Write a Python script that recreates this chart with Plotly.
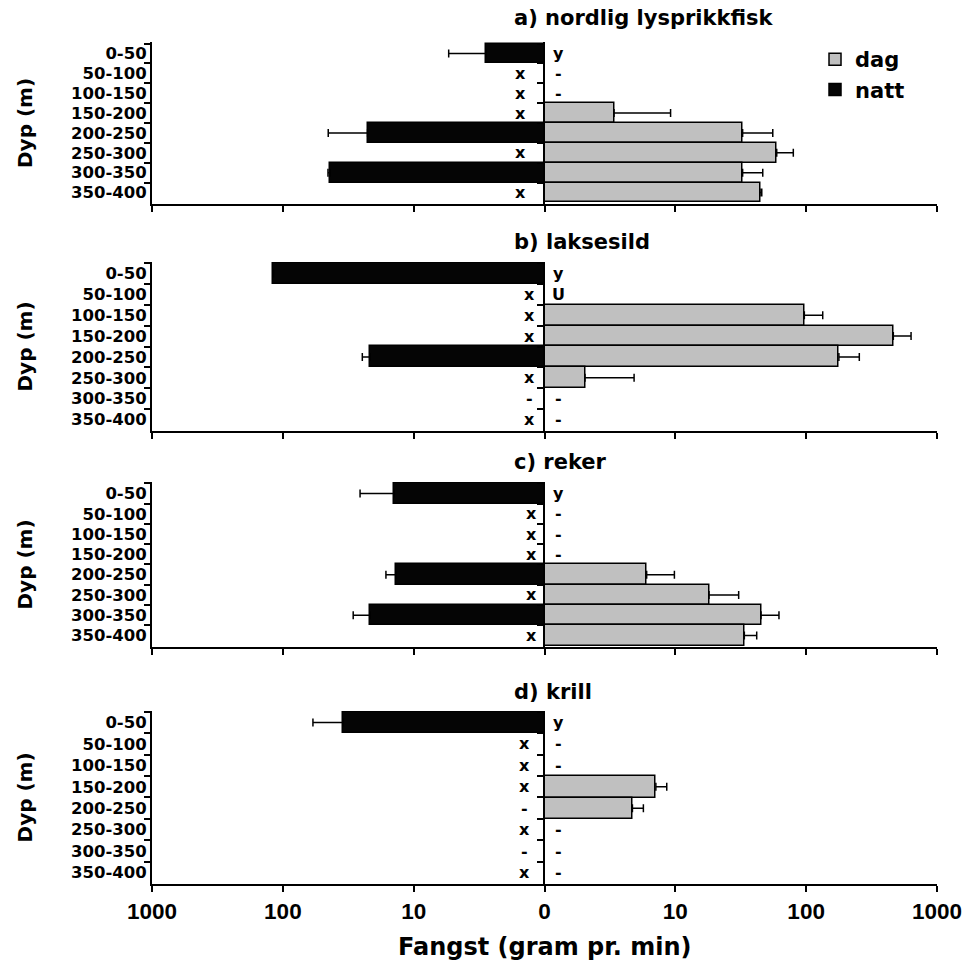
import plotly.graph_objects as go
from plotly.subplots import make_subplots

depths = ["0-50", "50-100", "100-150", "150-200", "200-250", "250-300", "300-350", "350-400"]
titles = ["a) nordlig lysprikkfisk", "b) laksesild", "c) reker", "d) krill"]

# a) nordlig lysprikkfisk
a_dag = [None, None, None, 3.4, 32.7, 59.6, 32.7, 44.4]
a_dag_err = [0, 0, 0, 5.8, 22.9, 20.2, 13.9, 1.4]
a_natt = [2.8, None, None, None, 22.5, None, 43.7, None]
a_natt_err = [2.6, 0, 0, 0, 22.5, 0, 1.5, 0]
a_left = ["", "x", "x", "x", "", "x", "", "x"]
a_right = ["y", "-", "-", "", "", "", "", ""]

# b) laksesild
b_dag = [None, None, 96.9, 464, 178, 2.04, None, None]
b_dag_err = [0, 0, 37, 170, 77, 2.8, 0, 0]
b_natt = [118, None, None, None, 21.6, None, None, None]
b_natt_err = [0, 0, 0, 0, 3.1, 0, 0, 0]
b_left = ["", "x", "x", "x", "", "x", "-", "x"]
b_right = ["y", "U", "", "", "", "", "-", "-"]

# c) reker
c_dag = [None, None, None, None, 6.04, 18.1, 45.2, 33.7]
c_dag_err = [0, 0, 0, 0, 3.8, 12.4, 16.8, 8.2]
c_natt = [14.1, None, None, None, 13.7, None, 21.6, None]
c_natt_err = [11.6, 0, 0, 0, 2.6, 0, 7.4, 0]
c_left = ["", "x", "x", "x", "", "x", "", "x"]
c_right = ["y", "-", "-", "-", "", "", "", ""]

# d) krill
d_dag = [None, None, None, 7.1, 4.7, None, None, None]
d_dag_err = [0, 0, 0, 1.5, 1.0, 0, 0, 0]
d_natt = [34.5, None, None, None, None, None, None, None]
d_natt_err = [24.4, 0, 0, 0, 0, 0, 0, 0]
d_left = ["", "x", "x", "x", "-", "x", "-", "x"]
d_right = ["y", "-", "-", "", "", "-", "-", "-"]

panels = [
    (a_dag, a_dag_err, a_natt, a_natt_err, a_left, a_right),
    (b_dag, b_dag_err, b_natt, b_natt_err, b_left, b_right),
    (c_dag, c_dag_err, c_natt, c_natt_err, c_left, c_right),
    (d_dag, d_dag_err, d_natt, d_natt_err, d_left, d_right),
]

left_ticks = [1000, 100, 10]
right_ticks = [1, 10, 100, 1000]
right_ticktext = ["0", "10", "100", "1000"]

ydomains = [[0.8076, 1.0], [0.538, 0.7387], [0.2815, 0.4774], [0.0, 0.2055]]
title_y = [1.0285, 0.7625, 0.5012, 0.228]
left_shift = [-24, -15, -13, -20]

BOLD_D = dict(family="DejaVu Sans", weight="bold", color="black")
BOLD_L = dict(family="Liberation Sans", weight="bold", color="black")

fig = make_subplots(rows=4, cols=2, horizontal_spacing=0, vertical_spacing=0.05)

annotations = []
for i, (dag, dag_err, natt, natt_err, lm, rm) in enumerate(panels):
    row = i + 1
    fig.add_trace(go.Bar(
        y=depths, x=dag, orientation="h", name="dag", width=1,
        marker=dict(color="#c0c0c0", line=dict(color="black", width=1.5)),
        error_x=dict(type="data", symmetric=False, array=dag_err, arrayminus=[0] * 8,
                     color="black", thickness=1.5, width=4),
        showlegend=(i == 0), legendgroup="dag"), row=row, col=2)
    fig.add_trace(go.Bar(
        y=depths, x=natt, orientation="h", name="natt", width=1,
        marker=dict(color="#050505", line=dict(color="black", width=1.5)),
        error_x=dict(type="data", symmetric=False, array=natt_err, arrayminus=[0] * 8,
                     color="black", thickness=1.5, width=4),
        showlegend=(i == 0), legendgroup="natt"), row=row, col=1)

    li = 2 * i + 1
    ri = 2 * i + 2
    xl = "xaxis" if li == 1 else f"xaxis{li}"
    xr = f"xaxis{ri}"
    yl = "yaxis" if li == 1 else f"yaxis{li}"
    yr = f"yaxis{ri}"
    ylref = "y" if li == 1 else f"y{li}"

    common_x = dict(type="log", showline=True, linecolor="black", linewidth=2,
                    ticks="outside", ticklen=6, tickwidth=2, tickcolor="black",
                    showgrid=False, zeroline=False, showticklabels=(i == 3),
                    ticklabeloverflow="allow", automargin=False,
                    tickfont=dict(size=22.5, **BOLD_L), fixedrange=True)
    fig.layout[xl].update(domain=[0, 0.5], range=[3.0004, 0], tickvals=left_ticks,
                          ticktext=[str(t) for t in left_ticks], **common_x)
    fig.layout[xr].update(domain=[0.5, 1], range=[0, 3.0004], tickvals=right_ticks,
                          ticktext=right_ticktext, **common_x)
    common_y = dict(showline=True, linecolor="black", linewidth=2, ticks="outside",
                    ticklen=6, tickwidth=2, tickcolor="black", tickson="boundaries",
                    tickmode="linear", tick0=0, dtick=1, automargin=False,
                    showgrid=False, zeroline=False, domain=ydomains[i])
    fig.layout[yl].update(categoryorder="array", categoryarray=depths,
                          autorange="reversed", showticklabels=True,
                          tickfont=dict(size=16.5, **BOLD_D), **common_y)
    fig.layout[yr].update(matches=ylref, showticklabels=False, **common_y)

    annotations.append(dict(text=titles[i], xref="paper", yref="paper", x=0.4586,
                            y=title_y[i], xanchor="left", yanchor="middle",
                            showarrow=False, font=dict(size=21, **BOLD_D)))
    annotations.append(dict(text="Dyp (m)", xref="paper", yref="paper", x=-0.1618,
                            y=sum(ydomains[i]) / 2, textangle=-90, xanchor="center",
                            yanchor="middle", showarrow=False,
                            font=dict(size=20, **BOLD_D)))
    for d, t in zip(depths, lm):
        if t:
            annotations.append(dict(text=t, xref="paper", yref=ylref, x=0.5, y=d,
                                    xshift=left_shift[i], showarrow=False,
                                    font=dict(size=16, **BOLD_D)))
    for d, t in zip(depths, rm):
        if t:
            annotations.append(dict(text=t, xref="paper", yref=ylref, x=0.5, y=d,
                                    xshift=14, showarrow=False,
                                    font=dict(size=16, **BOLD_D)))

annotations.append(dict(text="Fangst (gram pr. min)", xref="paper", yref="paper",
                        x=0.5, y=-0.0748, xanchor="center", yanchor="middle",
                        showarrow=False, font=dict(size=24, **BOLD_D)))

fig.update_layout(
    width=962, height=960,
    margin=dict(l=152, r=25, t=42, b=76, autoexpand=False),
    paper_bgcolor="white", plot_bgcolor="white",
    barmode="overlay", bargap=0,
    annotations=annotations,
    legend=dict(x=0.8446, y=1.0035, xanchor="left", yanchor="top",
                bgcolor="rgba(0,0,0,0)", font=dict(size=21, **BOLD_D),
                traceorder="normal", tracegroupgap=0),
    showlegend=True,
)

fig.write_html("out.html")
